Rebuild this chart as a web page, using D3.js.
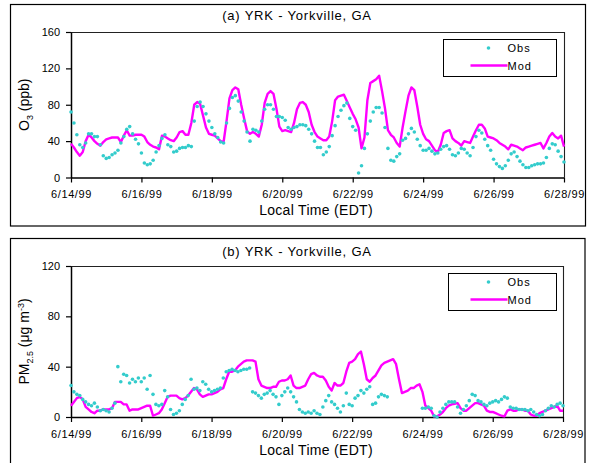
<!DOCTYPE html>
<html><head><meta charset="utf-8">
<script src="https://cdn.jsdelivr.net/npm/d3@7"></script>
<style>
body{margin:0;background:#fff;}
svg{display:block;font-family:"Liberation Sans",Arial,sans-serif;}
</style></head><body>
<svg id="c" width="592" height="463"></svg>
<script>
// ---- data (2-hourly, starting 6/14/99 00:00 EDT) ----
const startDate = new Date(1999, 5, 14, 0, 0, 0);
const stepHours = 2;
const xTickDates = ["1999-06-14","1999-06-16","1999-06-18","1999-06-20","1999-06-22","1999-06-24","1999-06-26","1999-06-28"];
const o3Ticks = [0, 40, 80, 120, 160];
const pmTicks = [0, 40, 80, 120];
const seriesNames = ["Obs", "Mod"];
const panelTitles = ["(a) YRK - Yorkville, GA", "(b) YRK - Yorkville, GA"];

const modO3 = [
 37,33,28,24,28,40,47,44,40,37,35,39,
 42,43,44,44,44,39,46,52,46,46,47,47,
 47,45,39,36,34,33,31,46,45,43,41,40,
 44,50,51,47,47,60,80,83,81,68,55,48,
 47,46,43,40,39,62,87,96,99,97,80,65,
 51,48,50,48,45,58,82,92,95,92,76,56,
 51,52,51,50,60,75,82,83,80,72,58,50,
 45,43,41,41,45,62,85,89,90,91,84,77,
 70,64,55,32,44,85,104,106,108,112,95,76,
 52,47,44,38,34,55,73,90,99,96,78,58,
 48,42,40,35,30,28,36,49,51,52,43,40,
 38,35,40,39,38,45,52,58,58,54,45,44,
 43,41,38,36,34,31,36,35,34,32,30,33,
 34,35,36,37,38,32,38,45,49,45,43,46,34];
const obsO3 = [
 72,60,47,36,33,38,48,48,45,45,36,24,
 21,22,25,27,30,38,45,53,56,48,42,37,
 27,16,14,15,19,28,35,43,47,36,34,28,
 29,32,33,33,35,34,62,78,83,78,70,62,
 55,48,44,39,38,60,76,88,90,84,72,62,
 50,40,53,52,50,62,75,80,80,75,67,67,
 66,63,55,53,55,56,58,58,57,53,48,40,
 33,33,25,28,34,46,57,67,74,79,82,65,
 56,52,5,13,32,48,62,72,77,77,71,55,
 32,19,18,23,26,41,43,48,54,50,42,35,
 30,30,32,29,26,27,31,34,35,31,25,24,
 27,32,31,27,24,33,45,52,49,42,35,30,
 20,15,12,10,13,19,26,28,23,18,14,11,
 11,13,14,15,15,16,22,32,37,36,29,23,17];
const modPM = [
 9,12,15,16,14,8,6,4,3,5,5,6,
 6,6,7,12,12,12,10,10,5,6,6,6,
 7,8,9,9,1,2,3,6,11,16,17,17,
 17,15,14,15,17,20,23,22,18,16,17,18,
 18,19,20,22,23,30,36,36,37,40,42,44,
 45,45,45,44,30,25,24,23,23,24,24,28,
 29,29,30,33,25,23,23,24,25,30,34,35,
 33,32,32,29,24,21,27,25,25,27,36,43,
 44,46,50,52,42,30,28,31,33,37,41,43,
 44,45,46,42,30,19,20,21,23,23,25,26,
 20,9,7,5,0.5,0.5,2,4,7,9,10,10.5,
 11,7,5,5,7,9,11,11,10,9,5,4,
 4,3,2,1,0.5,5,6,5,5,6,6,5,
 5,2,1,1,3,4,5,6,7,8,9,5,5];
const obsPM = [
 25,20,18,17,14,12,10,9,11,8,5,6,
 5,4,7,11,40,28,34,33,27,30,28,31,
 28,31,22,33,18,10,9,10,21,16,6,2,
 3,5,10,14,17,30,22,23,21,28,26,22,
 20,21,22,23,31,36,37,38,37,36,37,38,
 38,39,20,19,17,15,18,19,21,18,16,10,
 17,20,23,20,16,12,6,4,3,4,3,5,
 3,2,8,13,17,12,10,7,4,9,19,10,
 9,15,17,21,19,22,24,10,11,16,18,17,
 16,null,null,null,null,null,null,null,null,null,null,null,
 7,7,8,7,1,0,4,7,10,12,12,12,
 8,3,6,9,13,18,17,13,12,10,9,11,
 12,13,12,14,16,15,8,7,7,6,6,6,
 5,6,4,2,1,2,5,7,9,8,10,11,9];

// ---- drawing ----
const OBS_COLOR = "#33CCCC", MOD_COLOR = "#FF00FF";
const svg = d3.select("#c");
const timeOf = i => new Date(startDate.getTime() + i * stepHours * 3600e3);
const parse = d3.timeParse("%Y-%m-%d");
const tickDates = xTickDates.map(parse);
const fmt = d3.timeFormat("%-m/%-d/%y");

const panels = [
  {title: panelTitles[0], frame:{x:10.5,y:4.5,w:575,h:221.5}, plot:{l:71,t:32,r:564,b:177.5},
   ticks:o3Ticks, obs:obsO3, mod:modO3, legend:{x:443.5,y:39.5,w:113,h:37},
   titleY:20, xTitleY:215, yLab:"o3"},
  {title: panelTitles[1], frame:{x:10.5,y:238.5,w:574.5,h:240}, plot:{l:71,t:266,r:563,b:417},
   ticks:pmTicks, obs:obsPM, mod:modPM, legend:{x:448.5,y:273.5,w:108,h:37},
   titleY:256, xTitleY:455, yLab:"pm"}
];

panels.forEach(p => {
  const g = svg.append("g");
  g.append("rect").attr("x",p.frame.x).attr("y",p.frame.y).attr("width",p.frame.w).attr("height",p.frame.h)
    .attr("fill","none").attr("stroke","#000").attr("stroke-width",1.2);

  const x = d3.scaleTime().domain([tickDates[0], tickDates[tickDates.length-1]]).range([p.plot.l, p.plot.r]);
  const y = d3.scaleLinear().domain([0, d3.max(p.ticks)]).range([p.plot.b, p.plot.t]);

  g.append("path").attr("d",`M${p.plot.l},${p.plot.t+0.5}H${p.plot.r+0.5}V${p.plot.b}`)
    .attr("fill","none").attr("stroke","#222").attr("stroke-width",1.1);

  const ya = g.append("g").attr("transform",`translate(${p.plot.l},0)`)
    .call(d3.axisLeft(y).tickValues(p.ticks).tickSize(5).tickSizeOuter(0).tickPadding(6));
  ya.selectAll("text").attr("font-size",11).attr("fill","#000").attr("font-family","Liberation Sans, Arial, sans-serif");
  ya.select(".domain").attr("stroke-width",1.5);
  ya.selectAll(".tick line").attr("stroke-width",1.2);

  const xa = g.append("g").attr("transform",`translate(0,${p.plot.b})`)
    .call(d3.axisBottom(x).tickValues(tickDates).tickFormat(fmt).tickSize(5).tickSizeOuter(0).tickPadding(8));
  xa.selectAll("text").attr("font-size",11).attr("fill","#000").attr("letter-spacing","0.6px")
    .attr("font-family","Liberation Sans, Arial, sans-serif");
  xa.select(".domain").attr("stroke-width",1.5);
  xa.selectAll(".tick line").attr("stroke-width",1.2);

  const line = d3.line().defined(d => d != null)
    .x((d,i) => x(timeOf(i))).y(d => y(d));
  g.append("path").datum(p.mod).attr("d", line)
    .attr("fill","none").attr("stroke",MOD_COLOR).attr("stroke-width",2.4).attr("stroke-linejoin","round");

  g.append("g").selectAll("circle")
    .data(p.obs.map((v,i) => ({v,i})).filter(d => d.v != null))
    .join("circle").attr("cx", d => x(timeOf(d.i))).attr("cy", d => y(d.v)).attr("r",1.8)
    .attr("fill",OBS_COLOR);

  g.append("text").attr("x",297).attr("y",p.titleY).attr("text-anchor","middle")
    .attr("font-size",13).attr("letter-spacing","0.8px").text(p.title);
  g.append("text").attr("x",316).attr("y",p.xTitleY).attr("text-anchor","middle")
    .attr("font-size",14).attr("letter-spacing","0.3px").text("Local Time (EDT)");

  const cy = (p.plot.t + p.plot.b) / 2;
  const yt = g.append("text").attr("transform",`translate(29,${cy}) rotate(-90)`)
    .attr("text-anchor","middle").attr("font-size",14);
  if (p.yLab === "o3") {
    yt.append("tspan").text("O");
    yt.append("tspan").attr("font-size",9).attr("dy",4).text("3");
    yt.append("tspan").attr("dy",-4).text(" (ppb)");
  } else {
    yt.append("tspan").text("PM");
    yt.append("tspan").attr("font-size",9).attr("dy",4).text("2.5");
    yt.append("tspan").attr("dy",-4).text(" (\u03BCg m");
    yt.append("tspan").attr("font-size",9).attr("dy",-5).text("-3");
    yt.append("tspan").attr("dy",5).text(")");
  }

  const L = p.legend;
  g.append("rect").attr("x",L.x).attr("y",L.y).attr("width",L.w).attr("height",L.h)
    .attr("fill","#fff").attr("stroke","#000").attr("stroke-width",1);
  const tx = L.x + L.w - 49;
  g.append("circle").attr("cx", tx - 19).attr("cy", L.y + 8.5).attr("r",1.8).attr("fill",OBS_COLOR);
  g.append("text").attr("x",tx).attr("y",L.y + 12).attr("font-size",11).attr("letter-spacing","1px").text(seriesNames[0]);
  g.append("line").attr("x1",tx - 37).attr("x2",tx).attr("y1",L.y + 26).attr("y2",L.y + 26)
    .attr("stroke",MOD_COLOR).attr("stroke-width",2.4);
  g.append("text").attr("x",tx).attr("y",L.y + 30).attr("font-size",11).attr("letter-spacing","1px").text(seriesNames[1]);
});
</script>
</body></html>
